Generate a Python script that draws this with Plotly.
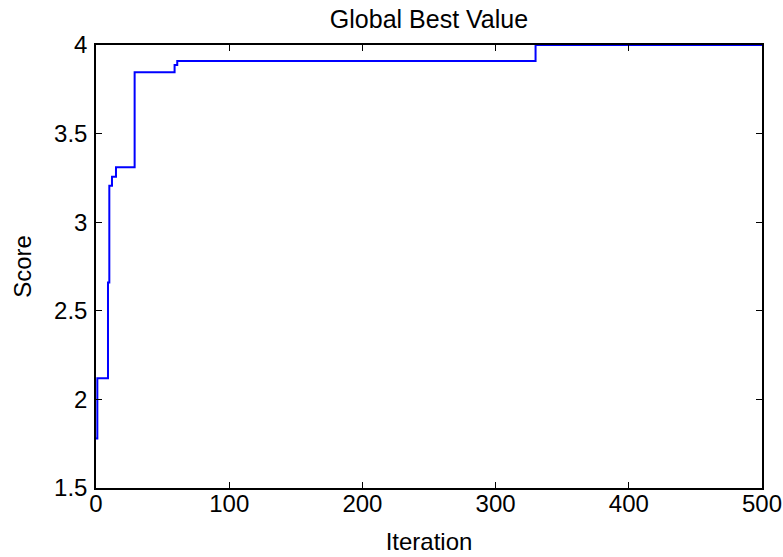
import plotly.graph_objects as go

iterations = [0, 1, 9, 10, 12, 15, 29, 59, 61, 330, 500]
scores = [1.78, 2.12, 2.66, 3.205, 3.256, 3.31, 3.846, 3.887, 3.91, 4.0, 4.0]

x_ticks = [0, 100, 200, 300, 400, 500]
y_ticks = [1.5, 2, 2.5, 3, 3.5, 4]

fig = go.Figure()
fig.add_trace(go.Scatter(x=iterations, y=scores, mode="lines", line_shape="hv",
                         line=dict(color="#0000ff", width=2), showlegend=False))

FAM = "Liberation Sans, Arial, sans-serif"
font = dict(family=FAM, size=24, color="#000")
axis_common = dict(showline=True, linecolor="#000", linewidth=1.5, mirror="ticks",
                   ticks="inside", ticklen=6, tickcolor="#000", showgrid=False,
                   zeroline=False, tickfont=font, automargin=False)

fig.update_layout(
    width=783, height=557,
    margin=dict(l=96, r=21, t=45, b=69),
    paper_bgcolor="white", plot_bgcolor="white",
    title=dict(text="Global Best Value", x=0.5, xanchor="center", xref="paper",
               y=1 - 19 / 557, yanchor="middle", font=dict(family=FAM, size=25, color="#000")),
    xaxis=dict(range=[0, 500], tickvals=x_ticks, ticklabelstandoff=-7,
               title=dict(text="Iteration", font=font, standoff=18), **axis_common),
    yaxis=dict(range=[1.5, 4], tickvals=y_ticks, ticktext=[f"{v:g}" for v in y_ticks],
               ticklabelstandoff=2,
               title=dict(text="Score", font=font, standoff=16), **axis_common),
)
fig.write_html("out.html")
